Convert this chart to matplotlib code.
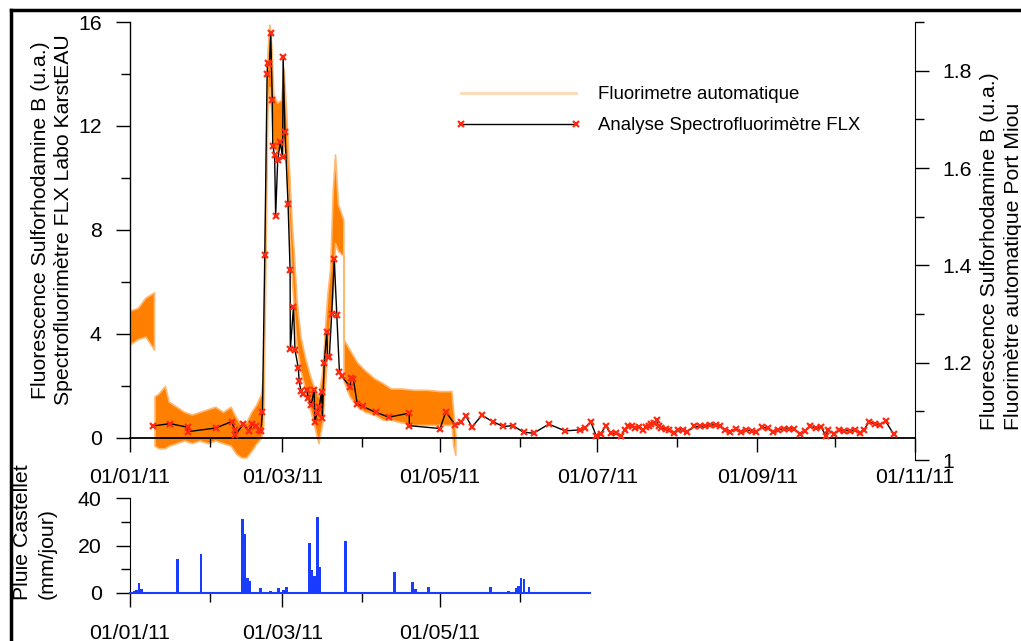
import numpy as np
import matplotlib
matplotlib.use("Agg")
import matplotlib.pyplot as plt
import matplotlib.dates as mdates
from matplotlib.lines import Line2D
from matplotlib.ticker import MultipleLocator, FixedLocator, FuncFormatter
from datetime import datetime

# ---- data (days counted from 01/01/2011) ----
# Analyse Spectrofluorimetre FLX (left axis)
flx_day = [9.0, 15.5, 22.3, 22.4, 33.2, 39.4, 40.6, 40.8, 43.9, 46.1, 47.4, 48.7, 50.1, 50.7,
           51.3, 52.2, 53.1, 53.3, 54.0, 54.5, 55.1, 55.3, 56.0, 56.4, 57.2, 58.2, 59.1, 59.3,
           60.0, 61.2, 62.0, 62.1, 63.3, 63.9, 65.2, 65.5, 66.2, 67.1, 68.4, 69.1, 70.2, 71.3,
           71.6, 72.4, 73.3, 74.2, 74.5, 75.2, 76.2, 76.5, 77.2, 78.1, 79.1, 80.1, 81.1, 82.0,
           85.2, 85.6, 86.5, 88.0, 90.1, 95.3, 100.3, 108.1, 108.2, 120.1, 122.3, 126.0, 128.2,
           130.0, 132.4, 136.3, 140.4, 144.5, 148.3, 152.4, 156.3, 162.2, 168.5, 174.3, 176.1,
           178.4, 180.5, 182.3, 184.2, 186.1, 188.1, 190.2, 191.6, 193.0, 194.3, 195.7, 197.1,
           198.5, 199.9, 200.8, 201.9, 203.1, 204.0, 204.7, 205.8, 207.5, 208.6, 210.5, 212.3,
           214.1, 215.8, 218.6, 220.6, 222.7, 224.8, 226.8, 228.5, 230.3, 232.4, 234.5, 236.5,
           238.6, 240.7, 242.3, 244.8, 246.9, 249.0, 251.0, 253.1, 255.2, 257.3, 259.3, 261.4,
           263.5, 265.6, 267.7, 269.4, 270.4, 272.5, 274.6, 276.6, 278.7, 280.8, 282.6, 284.2,
           286.3, 288.4, 290.5, 292.6, 295.7]
flx_val = [0.46, 0.55, 0.41, 0.24, 0.38, 0.63, 0.31, 0.12, 0.53, 0.27, 0.55, 0.44, 0.31, 0.27,
           1.01, 7.04, 13.99, 14.41, 14.37, 15.56, 13.0, 11.23, 10.87, 8.54, 10.69, 11.38, 10.79, 14.65,
           11.76, 9.01, 6.46, 3.42, 5.03, 3.38, 2.68, 2.19, 1.82, 1.69, 1.85, 1.53, 1.27, 1.85,
           0.62, 0.95, 1.18, 1.78, 0.77, 2.87, 4.09, 3.13, 3.13, 4.75, 6.87, 4.73, 2.54, 2.37,
           1.97, 2.30, 2.26, 1.31, 1.21, 0.98, 0.80, 0.95, 0.47, 0.36, 1.01, 0.49, 0.62,
           0.86, 0.42, 0.87, 0.63, 0.44, 0.47, 0.22, 0.18, 0.53, 0.27, 0.31, 0.37,
           0.63, 0.09, 0.15, 0.47, 0.18, 0.18, 0.08, 0.31, 0.47, 0.44, 0.37, 0.41,
           0.31, 0.41, 0.44, 0.53, 0.59, 0.67, 0.44, 0.37, 0.33, 0.31, 0.18, 0.31,
           0.31, 0.24, 0.44, 0.44, 0.46, 0.50, 0.50, 0.44, 0.31, 0.24, 0.33, 0.24,
           0.31, 0.27, 0.22, 0.41, 0.37, 0.24, 0.31, 0.35, 0.35, 0.35, 0.15, 0.28,
           0.44, 0.37, 0.41, 0.09, 0.31, 0.15, 0.31, 0.28, 0.27, 0.31, 0.18, 0.31,
           0.63, 0.53, 0.50, 0.65, 0.15]

# Fluorimetre automatique: envelope (min / max) of the noisy record, in left-axis units
auto_a_day = [0.0, 3.0, 6.0, 9.3]
auto_a_lo = [3.6, 3.8, 3.9, 3.4]
auto_a_hi = [4.9, 5.0, 5.4, 5.6]

auto_b_day = [9.5, 11.0, 13.5, 15.0, 18.0, 21.0, 24.0, 27.0, 30.0, 33.0, 36.0, 39.0, 41.0,
              43.0, 45.0, 47.0, 49.0, 50.8, 51.6, 52.3, 53.2, 54.0, 54.8, 55.5, 57.0, 58.5,
              59.5, 60.5, 61.5, 62.5, 63.5, 64.5, 66.0, 68.0, 70.0, 71.5, 73.0, 74.5, 75.5,
              76.5, 77.5, 78.5, 79.4, 80.5, 82.6, 82.7, 85.0, 88.0, 91.0, 94.5, 98.0, 101.0,
              105.0, 110.0, 115.0, 120.0, 124.5, 125.2, 126.0]
auto_b_lo = [-0.3, -0.4, -0.4, -0.3, -0.2, -0.1, -0.2, -0.1, -0.2, -0.1, -0.2, -0.3, -0.6,
             -0.75, -0.75, -0.5, -0.2, 0.0, 0.5, 5.5, 12.5, 13.5, 12.5, 11.2, 11.0, 11.3,
             11.5, 10.5, 8.5, 6.5, 4.8, 3.6, 2.6, 1.8, 1.0, 0.4, -0.2, 0.6, 2.0,
             3.5, 4.5, 5.5, 7.5, 7.2, 7.0, 2.2, 1.6, 1.2, 1.0, 0.9, 0.7, 0.7,
             0.6, 0.5, 0.5, 0.5, 0.5, -0.3, -0.65]
auto_b_hi = [1.6, 1.7, 2.0, 1.4, 1.2, 1.0, 0.9, 1.0, 1.1, 1.2, 1.0, 1.2, 0.8,
             0.5, 0.6, 1.0, 1.3, 1.7, 2.5, 8.0, 14.8, 15.9, 15.0, 13.2, 12.9, 13.0,
             14.2, 12.5, 10.5, 8.5, 7.0, 5.3, 3.9, 3.0, 2.3, 1.9, 1.6, 2.6, 4.2,
             5.6, 6.5, 9.5, 10.9, 9.0, 8.4, 3.8, 3.4, 2.9, 2.6, 2.3, 2.1, 1.9,
             1.9, 1.85, 1.85, 1.8, 1.8, 1.0, 0.2]

# Pluie Castellet, daily (mm/jour); days without rain are 0
rain_day = [0, 1, 2, 3, 4, 6, 8, 10, 12, 15, 18, 27, 28, 34, 36, 43, 44, 45, 46, 50, 54, 57,
            59, 60, 66, 69, 70, 71, 72, 73, 83, 84, 91, 102, 103, 109, 110, 115, 116, 139,
            146, 149, 150, 151, 152, 154]
rain_mm = [0.6, 0.8, 1.2, 4.3, 1.6, 0.5, 0.5, 0.4, 0.4, 0.5, 14.2, 16.3, 0.4, 0.4, 0.3, 31.0,
           25.0, 6.5, 5.0, 2.0, 1.0, 2.3, 1.2, 2.5, 0.3, 21.0, 9.5, 7.3, 32.0, 11.0, 22.0, 0.5,
           0.4, 9.0, 0.3, 4.5, 1.5, 2.5, 0.5, 2.5, 1.0, 2.3, 3.0, 6.3, 6.0, 2.5]
rain_last_day = 178

left_ticks = [0, 4, 8, 12, 16]
right_ticks = [1.0, 1.2, 1.4, 1.6, 1.8]
right_minor = [1.1, 1.3, 1.5, 1.7, 1.9]
rain_ticks = [0, 20, 40]

# ---- style ----
plt.rcParams['font.family'] = ['Liberation Sans', 'DejaVu Sans']
FS = 15.3
FS_LEG = 13.4
ORANGE = '#ff8000'
RED = '#ff2a10'
BLUE = '#1a3cff'
W, H = 1021, 641

T0 = mdates.date2num(datetime(2011, 1, 1))
T_END = mdates.date2num(datetime(2011, 11, 1))


def px_box(x0, y0, x1, y1):
    return [x0 / W, 1 - y1 / H, (x1 - x0) / W, (y1 - y0) / H]


def style_dates(a):
    a.xaxis.set_major_locator(mdates.MonthLocator(bymonth=range(1, 12, 2)))
    a.xaxis.set_minor_locator(mdates.MonthLocator())
    a.xaxis.set_major_formatter(mdates.DateFormatter('%d/%m/%y'))
    a.tick_params(axis='x', which='major', length=10, width=1, pad=12, labelsize=FS)
    a.tick_params(axis='x', which='minor', length=6.5, width=1)


fig = plt.figure(figsize=(W / 100, H / 100), dpi=100)

# ---- top panel ----
ax = fig.add_axes(px_box(130, 22, 915, 460))
ax.fill_between(T0 + np.array(auto_a_day), auto_a_lo, auto_a_hi, color=ORANGE,
                edgecolor='#ffb870', lw=1.2, zorder=1)
ax.fill_between(T0 + np.array(auto_b_day), auto_b_lo, auto_b_hi, color=ORANGE,
                edgecolor='#ffb870', lw=1.2, zorder=1)
ax.plot(T0 + np.array(flx_day), flx_val, color='black', lw=1.0, marker='x', ms=5,
        mec=RED, mew=1.6, zorder=3)

ax.set_xlim(T0, T_END)
ax.set_ylim(-0.85, 16)
style_dates(ax)
ax.yaxis.set_major_locator(FixedLocator(left_ticks))
ax.yaxis.set_minor_locator(MultipleLocator(2))
ax.tick_params(axis='y', which='major', length=10, width=1, pad=10.5, labelsize=FS)
ax.tick_params(axis='y', which='minor', length=6.8, width=1)
for s in ('top', 'right'):
    ax.spines[s].set_visible(False)
ax.spines['left'].set_bounds(0, 16)
ax.spines['bottom'].set_position(('data', 0))
ax.spines['bottom'].set_linewidth(1.3)
ax.spines['left'].set_linewidth(1.0)

ax2 = ax.twinx()
ax2.set_ylim(1, 1.9)
ax2.yaxis.set_major_locator(FixedLocator(right_ticks))
ax2.yaxis.set_minor_locator(FixedLocator(right_minor))
ax2.yaxis.set_major_formatter(FuncFormatter(lambda v, p: f'{v:g}'))
ax2.tick_params(axis='y', which='major', length=10, width=1, pad=10, labelsize=FS)
ax2.tick_params(axis='y', which='minor', length=6.8, width=1)
for s in ('top', 'left', 'bottom'):
    ax2.spines[s].set_visible(False)

handles = [Line2D([], [], color=ORANGE, alpha=0.3, lw=2),
           Line2D([], [], color='black', lw=1.0, marker='x', ms=5, mec=RED, mew=1.6)]
ax2.legend(handles, ['Fluorimetre automatique', 'Analyse Spectrofluorimètre FLX'],
           loc='upper left', bbox_to_anchor=(455 / W, 1 - 86 / H), bbox_transform=fig.transFigure,
           frameon=False, fontsize=FS_LEG, handlelength=6.8, handletextpad=0.86, numpoints=2,
           labelspacing=0.75, borderpad=0, borderaxespad=0)

# ---- bottom panel (rain) ----
bw = 785 * rain_last_day / (T_END - T0)
axb = fig.add_axes(px_box(130, 498, 130 + bw, 593))
axb.bar(T0 + np.array(rain_day), rain_mm, width=1, align='edge', color=BLUE, lw=0)
axb.set_xlim(T0, T0 + rain_last_day)
axb.set_ylim(0, 40)
style_dates(axb)
axb.yaxis.set_major_locator(FixedLocator(rain_ticks))
axb.yaxis.set_minor_locator(MultipleLocator(10))
axb.tick_params(axis='y', which='major', length=10, width=1, pad=10.5, labelsize=FS)
axb.tick_params(axis='y', which='minor', length=6.8, width=1)
for s in ('top', 'right'):
    axb.spines[s].set_visible(False)
axb.spines['bottom'].set_color(BLUE)
axb.spines['bottom'].set_linewidth(1.5)

# ---- axis titles ----
fig.text(41 / W, 1 - 220 / H, 'Fluorescence Sulforhodamine B (u.a.)', rotation=90,
         ha='center', va='center', fontsize=FS)
fig.text(63.5 / W, 1 - 220 / H, 'Spectrofluorimètre FLX Labo KarstEAU', rotation=90,
         ha='center', va='center', fontsize=FS)
fig.text(989 / W, 1 - 430 / H, 'Fluorescence Sulforhodamine B (u.a.)', rotation=90,
         ha='center', va='bottom', fontsize=FS)
fig.text(1013 / W, 1 - 430 / H, 'Fluorimètre automatique Port Miou', rotation=90,
         ha='center', va='bottom', fontsize=FS)
fig.text(23 / W, 1 - 600 / H, 'Pluie Castellet', rotation=90,
         ha='center', va='bottom', fontsize=FS)
fig.text(47 / W, 1 - 599 / H, '(mm/jour)', rotation=90,
         ha='center', va='bottom', fontsize=FS)

# frame of the original page
fig.add_artist(Line2D([11 / W, 1.0], [1 - 10 / H] * 2, transform=fig.transFigure,
                      color='black', lw=2.5))
fig.add_artist(Line2D([11 / W] * 2, [0.0, 1 - 10 / H], transform=fig.transFigure,
                      color='black', lw=2.5))

fig.savefig('out.png', dpi=100)
plt.close(fig)
